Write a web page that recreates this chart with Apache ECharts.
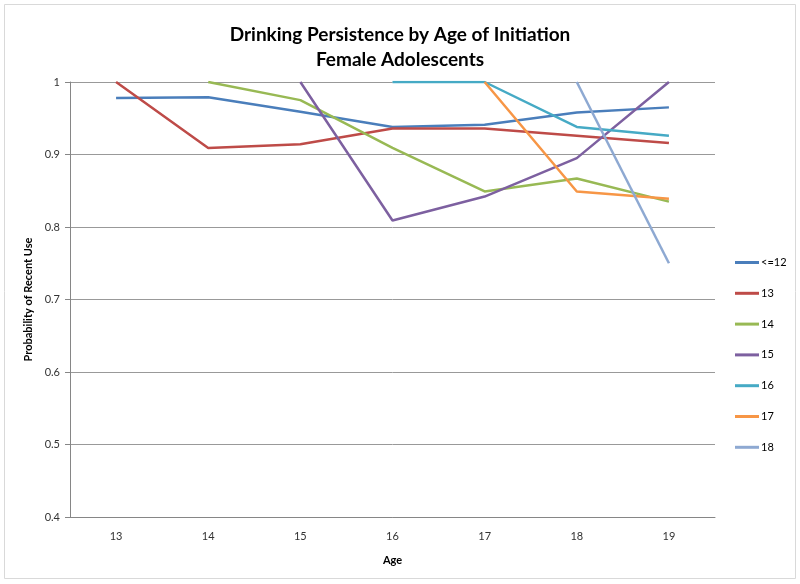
<!DOCTYPE html>
<html><head><meta charset="utf-8">
<script src="https://cdn.jsdelivr.net/npm/echarts@6/dist/echarts.min.js"></script>
<style>html,body{margin:0;padding:0;background:#fff}#c{width:800px;height:584px}</style>
</head><body><div id="c"></div>
<script>
const ages = ['13','14','15','16','17','18','19'];
const seriesNames = ['<=12','13','14','15','16','17','18'];
const s_le12 = [0.978, 0.979, 0.959, 0.938, 0.941, 0.958, 0.965];
const s_13   = [1.0, 0.909, 0.914, 0.936, 0.936, 0.926, 0.916];
const s_14   = [null, 1.0, 0.975, 0.909, 0.849, 0.867, 0.835];
const s_15   = [null, null, 1.0, 0.809, 0.842, 0.895, 1.0];
const s_16   = [null, null, null, 1.0, 1.0, 0.938, 0.926];
const s_17   = [null, null, null, null, 1.0, 0.849, 0.839];
const s_18   = [null, null, null, null, null, 1.0, 0.75];
const yTicks = [0.4, 0.5, 0.6, 0.7, 0.8, 0.9, 1];
const colors = ['#4A7EBB','#BE4B48','#98B954','#7D60A0','#46AAC5','#F79646','#8EA9D2'];
const allData = [s_le12, s_13, s_14, s_15, s_16, s_17, s_18];

const font = 'Lato, "Open Sans", sans-serif';
const chart = echarts.init(document.getElementById('c'));
chart.setOption({
  animation: false,
  color: colors,
  graphic: [{type:'rect', shape:{x:4.5,y:4.5,width:791,height:574}, style:{fill:'none', stroke:'#d9d9d9', lineWidth:1}, silent:true}],
  title: {
    text: 'Drinking Persistence by Age of Initiation\nFemale Adolescents',
    left: 'center', top: 17,
    textStyle: {fontFamily: font, fontSize: 19, fontWeight: 'bold', color: '#000', lineHeight: 25}
  },
  legend: {
    orient: 'vertical', left: 730, top: 252,
    itemWidth: 24, itemHeight: 3, itemGap: 19.8,
    icon: 'rect',
    textStyle: {fontFamily: font, fontSize: 11, color: '#000', padding:[0,0,0,-3], height: 13},
    data: seriesNames
  },
  grid: {left: 70, right: 85, top: 82, bottom: 67},
  xAxis: {
    type: 'category', data: ages, boundaryGap: true,
    name: 'Age', nameLocation: 'middle', nameGap: 38,
    nameTextStyle: {fontFamily: font, fontSize: 11, fontWeight: 'bold', color: '#000'},
    axisLine: {lineStyle: {color: '#868686'}},
    axisTick: {show: false},
    axisLabel: {fontFamily: font, fontSize: 11, color: '#333', margin: 14}
  },
  yAxis: {
    type: 'value', min: 0.4, max: 1, interval: 0.1,
    name: 'Probability of Recent Use', nameLocation: 'middle', nameGap: 33,
    nameTextStyle: {fontFamily: font, fontSize: 11, fontWeight: 'bold', color: '#000'},
    axisLine: {show: true, lineStyle: {color: '#868686'}},
    axisTick: {show: true, length: 5, inside: false, lineStyle: {color: '#868686'}},
    splitLine: {lineStyle: {color: '#999999'}},
    axisLabel: {fontFamily: font, fontSize: 11, color: '#333', margin: 10,
      formatter: v => { const r = Math.round(v*10)/10; return yTicks.includes(r) ? String(r) : ''; }}
  },
  series: allData.map((d, i) => ({
    name: seriesNames[i], type: 'line', data: d, showSymbol: false, symbol: 'none',
    connectNulls: false,
    lineStyle: {width: 2.5, color: colors[i]}
  }))
});
</script></body></html>
